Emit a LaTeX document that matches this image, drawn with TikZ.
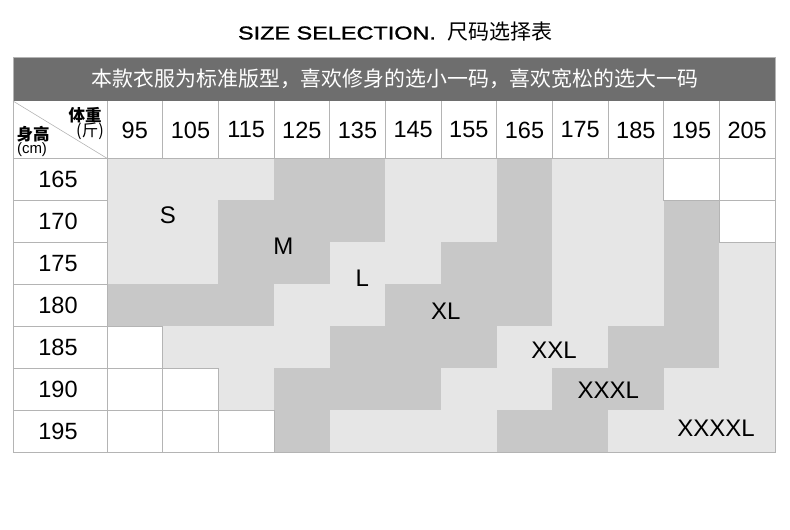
\documentclass[tikz,border=0pt]{standalone}
\usepackage{fontspec}
\setmainfont{Liberation Sans}
\newfontfamily\cjk{Noto Sans CJK SC}
\definecolor{band}{HTML}{6E6E6E}
\definecolor{rule}{HTML}{B4B4B4}
\definecolor{lt}{HTML}{E6E6E6}
\definecolor{dk}{HTML}{C8C8C8}

\begin{document}
\begin{tikzpicture}[x=1pt,y=-1pt,draw=rule,line width=0.9pt]
	\tikzstyle{num}=[inner sep=0pt,font=\fontsize{23.5}{24}\selectfont]
	\tikzstyle{size}=[inner sep=0pt,font=\fontsize{24}{25}\selectfont]
	\tikzstyle{hd}=[inner sep=0pt,font=\fontsize{16.5}{17}\selectfont\cjk\bfseries]
	\tikzstyle{unit}=[inner sep=0pt,font=\fontsize{15}{16}\selectfont]
	\def\sizemap{{1,1,1,2,2,1,1,2,1,1,0,0},{1,1,2,2,2,1,1,2,1,1,2,0},{1,1,2,2,1,1,2,2,1,1,2,1},{2,2,2,1,1,2,2,2,1,1,2,1},{0,1,1,1,2,2,2,1,1,2,2,1},{0,0,1,2,2,2,1,1,2,2,1,1},{0,0,0,2,1,1,1,2,2,1,1,1}}

\useasboundingbox (0,0) rectangle (790,530);

% title and note
\node[inner sep=0pt,font=\fontsize{18.6}{20}\selectfont\addfontfeatures{FakeBold=1.2}](title) at (395.5,31.5){\scalebox{1.26}[1]{SIZE SELECTION.}\hspace{12pt}{\cjk\fontsize{21}{22}\selectfont 尺码选择表}};
\fill[band] (13,57) rectangle (775,101);
\node[text=white,inner sep=0pt,font=\fontsize{20.9}{21}\selectfont\cjk](note) at (395,79){本款衣服为标准版型，喜欢修身的选小一码，喜欢宽松的选大一码};

% size areas
\begin{scope}[shift={(107,158.3)},x=55.67pt,y=-42pt]
\foreach \row [count=\r] in \sizemap
	\foreach \v [count=\c] in \row {
		\ifnum\v=1 \fill[lt] (\c-1,\r-1) rectangle (\c,\r); \fi
		\ifnum\v=2 \fill[dk] (\c-1,\r-1) rectangle (\c,\r); \fi
	}
\foreach \row [count=\r] in \sizemap
	\foreach \v [count=\c] in \row {
		\ifnum\v=0 \draw (\c-1,\r-1) rectangle (\c,\r); \fi
	}
\end{scope}

% rules
\draw (13,158.3) -- (775,158.3);
\foreach \c in {1,...,11}
	\draw (107+\c*55.67,101) -- (107+\c*55.67,158.3);
\foreach \r in {1,...,6}
	\draw (13,158.3+\r*42) -- (107,158.3+\r*42);
\draw (107,101) -- (107,452.3);
\draw (13,57) rectangle (775,452.3);
\draw[line width=0.6pt] (13,101) -- (107,158.3);

% corner
\node[hd](wt) at (85,115){体重};
\node[hd,font=\fontsize{16.5}{17}\selectfont\cjk](jin) at (90,131){(斤)};
\node[hd](ht) at (33,134.5){身高};
\node[unit](cm) at (32,150){(cm)};

% weights
\node[num](w95) at (134.8,130){95};
\node[num](w105) at (190.5,130){105};
\node[num](w115) at (246.2,130){115};
\node[num](w125) at (301.8,130){125};
\node[num](w135) at (357.5,130){135};
\node[num](w145) at (413.2,130){145};
\node[num](w155) at (468.8,130){155};
\node[num](w165) at (524.5,130){165};
\node[num](w175) at (580.2,130){175};
\node[num](w185) at (635.8,130){185};
\node[num](w195) at (691.5,130){195};
\node[num](w205) at (747.2,130){205};

% heights
\node[num](h165) at (58,179.3){165};
\node[num](h170) at (58,221.3){170};
\node[num](h175) at (58,263.3){175};
\node[num](h180) at (58,305.3){180};
\node[num](h185) at (58,347.3){185};
\node[num](h190) at (58,389.3){190};
\node[num](h195) at (58,431.3){195};

% sizes
\node[size](s) at (168,215.7){S};
\node[size](m) at (283.3,246.7){M};
\node[size](l) at (362.3,278.3){L};
\node[size](xl) at (445.7,311.7){XL};
\node[size](xxl) at (554,350){XXL};
\node[size](xxxl) at (608.3,390){XXXL};
\node[size](xxxxl) at (716,428.3){XXXXL};

\end{tikzpicture}
\end{document}
